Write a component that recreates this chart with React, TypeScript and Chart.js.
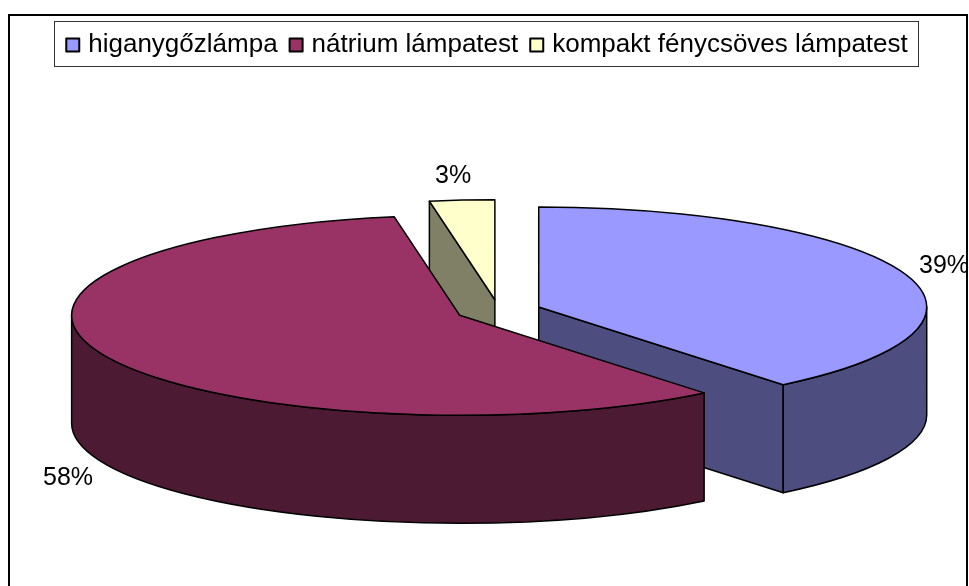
import React, { useEffect, useRef } from "react";
import { Chart, registerables } from "chart.js";

Chart.register(...registerables);

const categories = ["higanygőzlámpa", "nátrium lámpatest", "kompakt fénycsöves lámpatest"];
const values = [39.15, 58.15, 2.7];
const topColors = ["#9999FF", "#993366", "#FFFFCC"];
const sideColors = ["#4D4D80", "#4D1A33", "#808066"];
const labelAnchors = [
  [919, 273],
  [43, 485],
  [435, 183],
];

const CENTER_X = 498.5;
const CENTER_Y = 310.7;
const RADIUS_X = 388;
const RADIUS_Y = 100;
const DEPTH = 108;
const EXPLODE = 0.11;
const FONT = '"Liberation Sans", Arial, sans-serif';

function sliceGeometry(arc: any) {
  const mid = (arc.startAngle + arc.endAngle) / 2;
  return {
    x: CENTER_X + Math.cos(mid) * RADIUS_X * EXPLODE,
    y: CENTER_Y + Math.sin(mid) * RADIUS_Y * EXPLODE,
    start: arc.startAngle,
    end: arc.endAngle,
  };
}

function drawWall(ctx: CanvasRenderingContext2D, g: any, color: string) {
  ctx.fillStyle = color;
  ctx.strokeStyle = "#000";
  ctx.lineWidth = 1.5;
  ctx.lineJoin = "round";
  const face = (a: number) => {
    const px = g.x + Math.cos(a) * RADIUS_X;
    const py = g.y + Math.sin(a) * RADIUS_Y;
    ctx.beginPath();
    ctx.moveTo(g.x, g.y);
    ctx.lineTo(px, py);
    ctx.lineTo(px, py + DEPTH);
    ctx.lineTo(g.x, g.y + DEPTH);
    ctx.closePath();
    ctx.fill();
    ctx.stroke();
  };
  if (Math.cos(g.start) < -1e-6) face(g.start);
  if (Math.cos(g.end) > 1e-6) face(g.end);
  const s = Math.max(g.start, 0);
  const e = Math.min(g.end, Math.PI);
  if (s < e) {
    ctx.beginPath();
    ctx.ellipse(g.x, g.y, RADIUS_X, RADIUS_Y, 0, s, e);
    ctx.ellipse(g.x, g.y + DEPTH, RADIUS_X, RADIUS_Y, 0, e, s, true);
    ctx.closePath();
    ctx.fill();
    ctx.stroke();
  }
}

const pie3d = {
  id: "pie3d",
  beforeDraw(chart: any) {
    const { ctx } = chart;
    ctx.save();
    ctx.fillStyle = "#fff";
    ctx.fillRect(0, 0, chart.width, chart.height);
    ctx.strokeStyle = "#000";
    ctx.lineWidth = 2;
    ctx.strokeRect(9, 15, 958, 600);
    ctx.lineWidth = 1;
    ctx.strokeStyle = "#333";
    ctx.strokeRect(54.5, 21.5, 864, 45);
    ctx.restore();
  },
  beforeDatasetDraw(chart: any, args: any) {
    const { ctx } = chart;
    const arcs = args.meta.data;
    const order = [0, 2, 1];
    order.forEach((i) => drawWall(ctx, sliceGeometry(arcs[i]), sideColors[i]));
    order.forEach((i) => {
      const arc = arcs[i];
      const g = sliceGeometry(arc);
      ctx.save();
      ctx.translate(g.x, g.y);
      ctx.scale(1, RADIUS_Y / RADIUS_X);
      ctx.translate(-arc.x, -arc.y);
      arc.draw(ctx);
      ctx.restore();
      ctx.save();
      ctx.strokeStyle = "#000";
      ctx.lineWidth = 1.5;
      ctx.lineJoin = "round";
      ctx.beginPath();
      ctx.moveTo(g.x, g.y);
      ctx.ellipse(g.x, g.y, RADIUS_X, RADIUS_Y, 0, g.start, g.end);
      ctx.closePath();
      ctx.stroke();
      ctx.restore();
    });
    return false;
  },
  afterDraw(chart: any) {
    const { ctx } = chart;
    const total = values.reduce((a, b) => a + b, 0);
    ctx.save();
    ctx.fillStyle = "#000";
    ctx.font = `25px ${FONT}`;
    ctx.textAlign = "left";
    ctx.textBaseline = "alphabetic";
    values.forEach((v, i) => {
      ctx.fillText(`${Math.round((v / total) * 100)}%`, labelAnchors[i][0], labelAnchors[i][1]);
    });
    ctx.strokeStyle = "#000";
    ctx.lineWidth = 2;
    chart.legend.legendHitBoxes.forEach((hb: any, i: number) => {
      const y = hb.top + hb.height / 2 - 6.5;
      ctx.fillStyle = topColors[i];
      ctx.fillRect(hb.left + 1, y, 13, 13);
      ctx.strokeRect(hb.left + 1, y, 13, 13);
    });
    ctx.restore();
  },
};

export default function App() {
  const ref = useRef<HTMLCanvasElement>(null);
  useEffect(() => {
    const chart = new Chart(ref.current!, {
      type: "pie",
      data: {
        labels: categories,
        datasets: [
          {
            data: values,
            backgroundColor: topColors,
            borderWidth: 0,
            radius: RADIUS_X,
            clip: false,
          } as any,
        ],
      },
      options: {
        responsive: false,
        animation: false,
        layout: { padding: { top: 21, left: 4 } },
        plugins: {
          tooltip: { enabled: false },
          legend: {
            position: "top",
            labels: {
              boxWidth: 10,
              padding: 11,
              color: "#000",
              font: { family: FONT, size: 26 },
              generateLabels: () =>
                categories.map((text, i) => ({
                  text,
                  fillStyle: "transparent",
                  strokeStyle: "transparent",
                  lineWidth: 0,
                  hidden: false,
                  index: i,
                })),
            },
          },
        },
      },
      plugins: [pie3d],
    } as any);
    return () => chart.destroy();
  }, []);
  return (
    <canvas
      ref={ref}
      width={969}
      height={586}
      style={{ position: "fixed", left: 0, top: 0, width: 969, height: 586, display: "block" }}
    />
  );
}
